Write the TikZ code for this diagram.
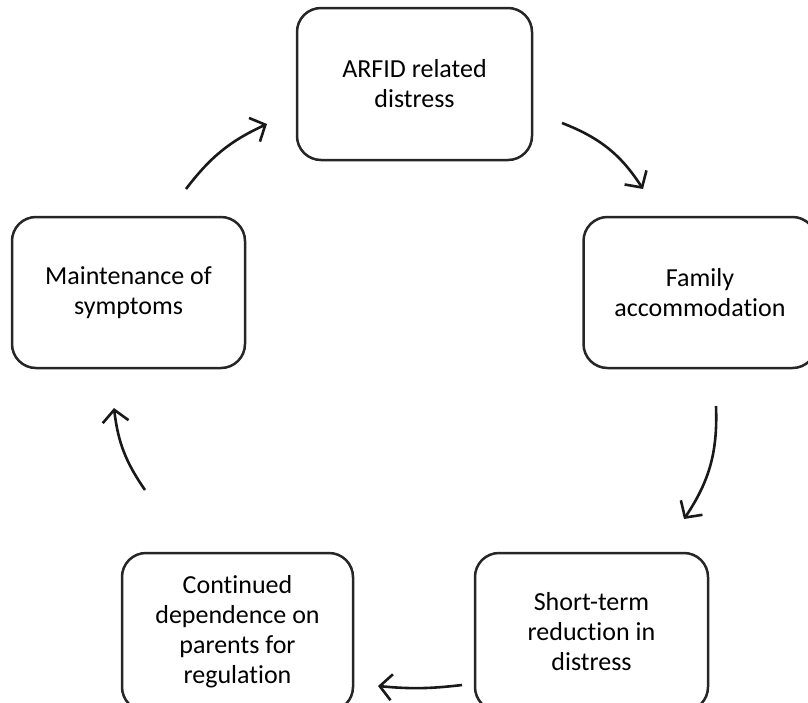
\documentclass[tikz,border=0pt]{standalone}
\usepackage{fontspec}
\setmainfont{Carlito}[Ligatures={NoCommon}]
\usetikzlibrary{arrows.meta}
\begin{document}
\begin{tikzpicture}[x=1pt, y=1pt, % {{{
  stage/.style={draw=black!85, line width=2.5pt, rounded corners=24pt, align=center,
    inner sep=0pt, font=\fontsize{26}{30}\selectfont},
  cycarrow/.style={draw=black!90, line width=2.6pt,
    -{Straight Barb[length=12pt, width=26pt, line width=2.6pt]}}]
\useasboundingbox (0,0) rectangle (808,-702);
% Etapas   {{{
\node[stage, minimum width=235pt, minimum height=152pt] (distress) at (414.5,-84) {ARFID related\\distress};
\node[stage, minimum width=233pt, minimum height=151pt] (accom) at (700,-292.5) {Family\\accommodation};
\node[stage, minimum width=233pt, minimum height=158pt] (reduction) at (591.5,-632) {Short-term\\reduction in\\distress};
\node[stage, minimum width=231pt, minimum height=158pt] (depend) at (237.5,-632) {Continued\\dependence on\\parents for\\regulation};
\node[stage, minimum width=233pt, minimum height=151pt] (maintain) at (128.5,-292.5) {Maintenance of\\symptoms};
% }}}
% Flechas   {{{
\coordinate (d2a) at (562,-123); \coordinate (a2d) at (643,-189);
\coordinate (a2r) at (716,-406); \coordinate (r2a) at (684,-519);
\coordinate (r2d) at (462,-685); \coordinate (d2r) at (378,-686);
\coordinate (d2m) at (145,-490); \coordinate (m2d) at (114,-408);
\coordinate (m2t) at (186,-189); \coordinate (t2m) at (267,-124);
\draw[cycarrow] (d2a) to[bend left=18] (a2d);
\draw[cycarrow] (a2r) to[bend left=18] (r2a);
\draw[cycarrow] (r2d) to[bend left=6] (d2r);
\draw[cycarrow] (d2m) to[bend left=14] (m2d);
\draw[cycarrow] (m2t) to[bend left=14] (t2m);
% }}}
\end{tikzpicture} % }}}
\end{document}
